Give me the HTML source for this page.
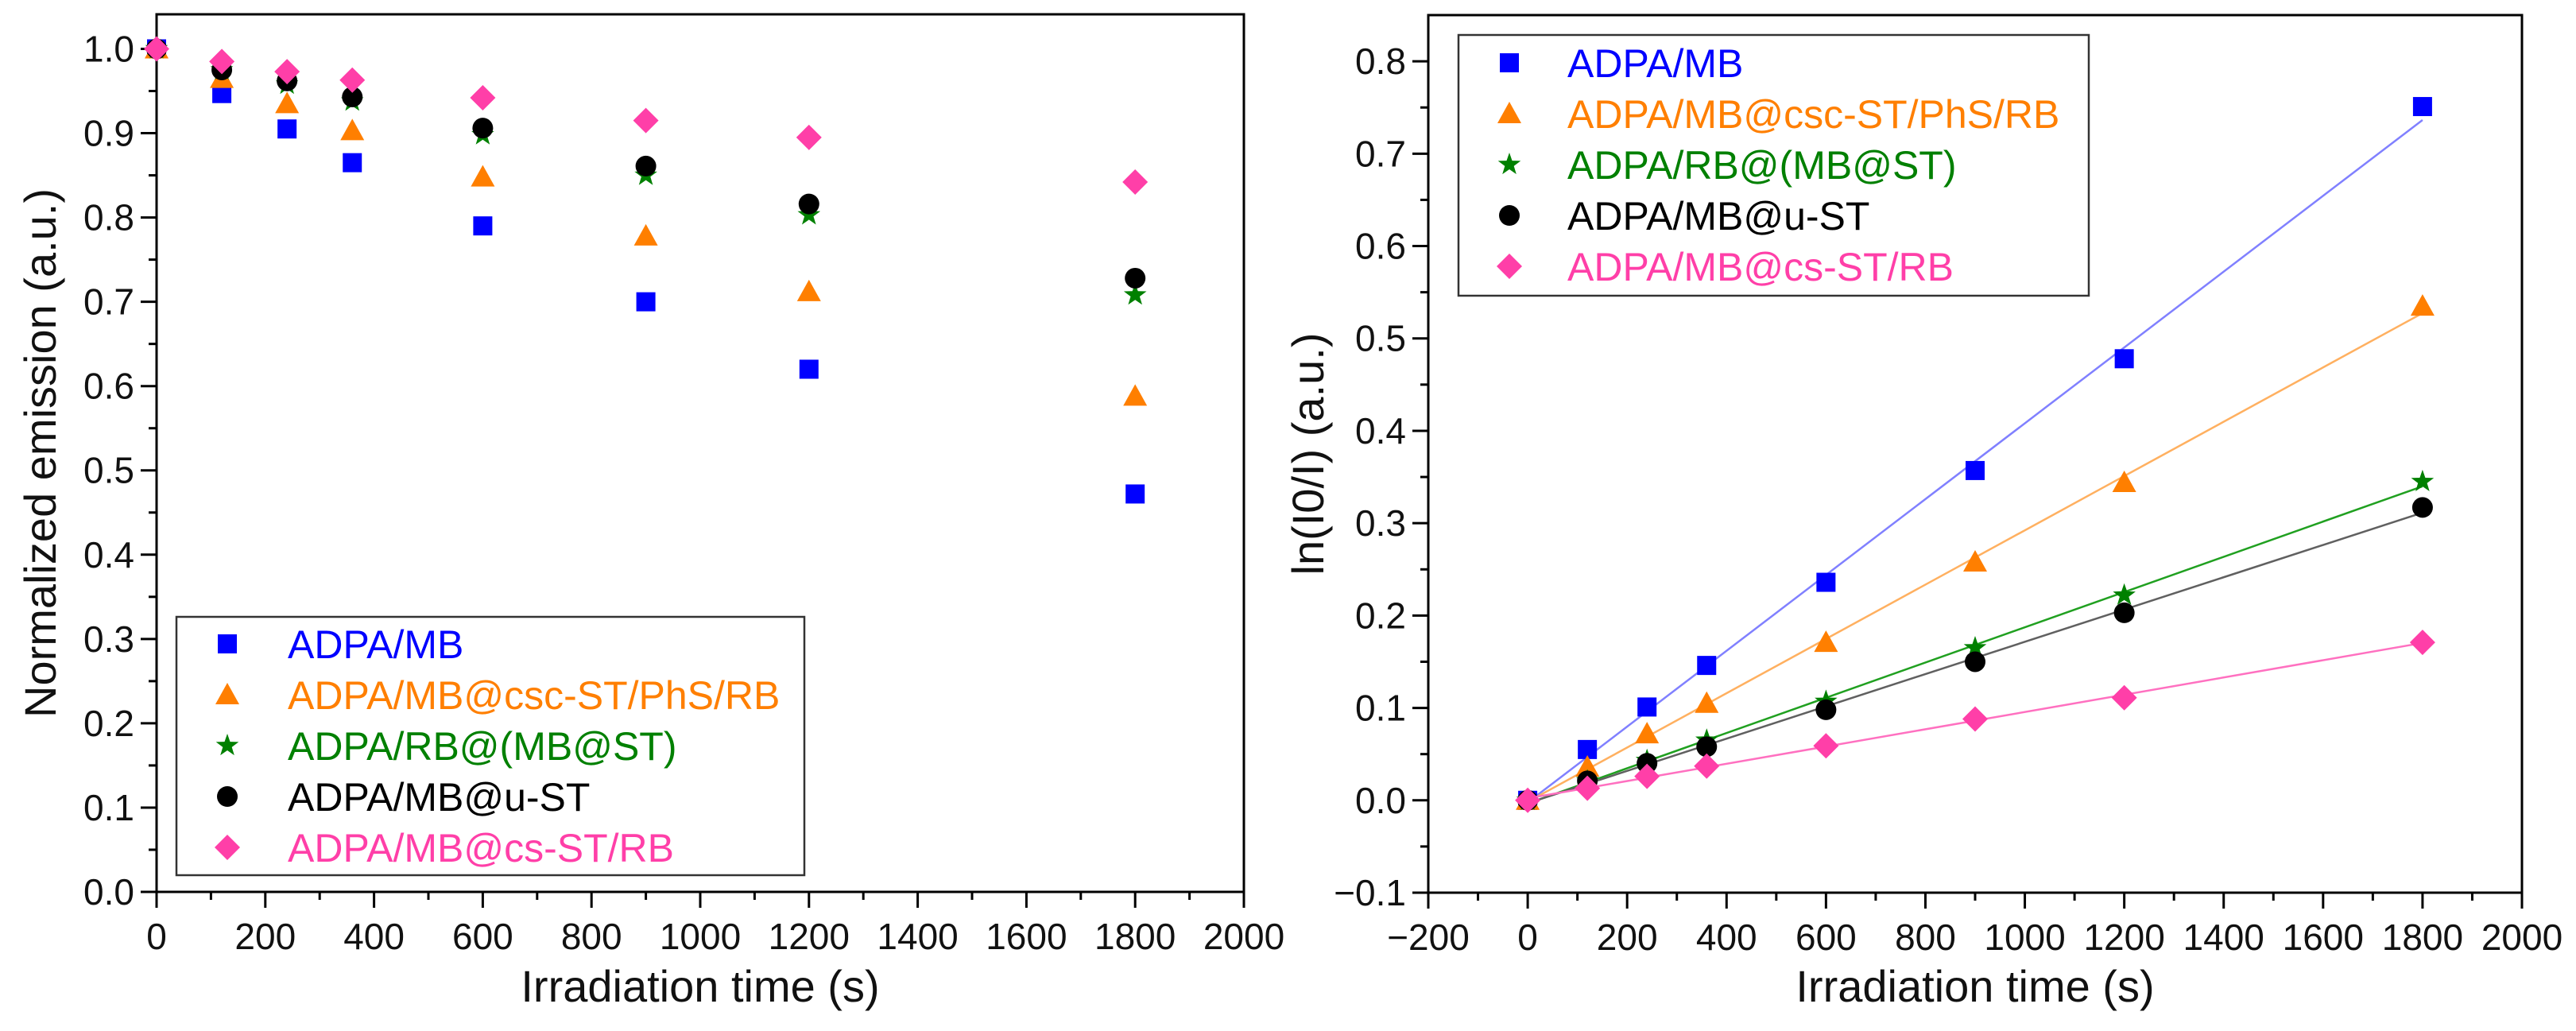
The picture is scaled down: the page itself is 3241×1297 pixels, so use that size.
<!DOCTYPE html>
<html><head><meta charset="utf-8">
<style>
html,body{margin:0;padding:0;background:#fff;}
svg{display:block;font-family:"Liberation Sans",Arial,sans-serif;}
</style></head>
<body>
<svg id="fig" width="3241" height="1297" viewBox="0 0 3241 1297" xmlns="http://www.w3.org/2000/svg"></svg>
<script>
const times = [0,120,240,360,600,900,1200,1800];
const seriesNames = ["ADPA/MB","ADPA/MB@csc-ST/PhS/RB","ADPA/RB@(MB@ST)","ADPA/MB@u-ST","ADPA/MB@cs-ST/RB"];
const emisMB  = [1.0,0.947,0.905,0.865,0.790,0.700,0.620,0.472];
const emisCSC = [1.0,0.965,0.935,0.903,0.848,0.778,0.712,0.588];
const emisRB  = [1.0,0.975,0.958,0.938,0.898,0.850,0.803,0.708];
const emisU   = [1.0,0.975,0.962,0.943,0.906,0.861,0.816,0.728];
const emisCS  = [1.0,0.985,0.973,0.963,0.942,0.915,0.895,0.842];
const lnMB  = [0,0.055,0.101,0.146,0.236,0.357,0.478,0.751];
const lnCSC = [0,0.036,0.072,0.105,0.171,0.258,0.344,0.535];
const lnRB  = [0,0.021,0.043,0.065,0.107,0.165,0.222,0.345];
const lnU   = [0,0.021,0.040,0.058,0.098,0.150,0.203,0.317];
const lnCS  = [0,0.013,0.026,0.037,0.059,0.088,0.111,0.171];
const leftXTicks = [0,200,400,600,800,1000,1200,1400,1600,1800,2000];
const leftYTicks = [0.0,0.1,0.2,0.3,0.4,0.5,0.6,0.7,0.8,0.9,1.0];
const rightXTicks = [-200,0,200,400,600,800,1000,1200,1400,1600,1800,2000];
const rightYTicks = [-0.1,0.0,0.1,0.2,0.3,0.4,0.5,0.6,0.7,0.8];

const colors = ["#0000ff","#ff7f00","#008000","#000000","#ff3fa8"];
const lineColors = ["#8080ff","#ffb060","#20a020","#606060","#ff70c0"];
const shapes = ["square","triangle","star","circle","diamond"];
const NS = "http://www.w3.org/2000/svg";
const svg = document.getElementById("fig");
function el(tag, attrs, parent){
  const e = document.createElementNS(NS, tag);
  for (const k in attrs) e.setAttribute(k, attrs[k]);
  (parent||svg).appendChild(e); return e;
}
function marker(shape, cx, cy, color, g){
  let m;
  if (shape==="square") m = el("rect",{x:cx-12,y:cy-12,width:24,height:24,fill:color},g);
  else if (shape==="circle") m = el("circle",{cx:cx,cy:cy,r:13,fill:color},g);
  else if (shape==="triangle") m = el("polygon",{points:`${cx},${cy-15} ${cx+15},${cy+12} ${cx-15},${cy+12}`,fill:color},g);
  else if (shape==="diamond") m = el("polygon",{points:`${cx},${cy-16} ${cx+16},${cy} ${cx},${cy+16} ${cx-16},${cy}`,fill:color},g);
  else {
    let p=[]; for(let i=0;i<10;i++){const r=i%2?6:15;const a=-Math.PI/2+i*Math.PI/5;p.push((cx+r*Math.cos(a)).toFixed(1)+","+(cy+r*Math.sin(a)).toFixed(1));}
    m = el("polygon",{points:p.join(" "),fill:color},g);
  }
  return m;
}
function axes(cfg){
  const g = el("g",{});
  
  
  const {x0,x1,y0,y1,xmin,xmax,ymin,ymax} = cfg;
  const sx = v => x0 + (v-xmin)/(xmax-xmin)*(x1-x0);
  const sy = v => y0 - (v-ymin)/(ymax-ymin)*(y0-y1);
  el("rect",{x:x0,y:y1,width:x1-x0,height:y0-y1,fill:"none",stroke:"#000","stroke-width":3},g);
  cfg.xTicks.forEach((t,i)=>{
    const x=sx(t);
    el("line",{x1:x,y1:y0,x2:x,y2:y0+20,stroke:"#000","stroke-width":3},g);
    if(i<cfg.xTicks.length-1){const xm=sx(t+(cfg.xTicks[1]-cfg.xTicks[0])/2);el("line",{x1:xm,y1:y0,x2:xm,y2:y0+10,stroke:"#000","stroke-width":3},g);}
    const tx=el("text",{x:x,y:y0+72,"font-size":46,"text-anchor":"middle",fill:"#111"},g);
    
    
    tx.textContent = t<0 ? "\u2212"+(-t) : String(t);
  });
  cfg.yTicks.forEach((t,i)=>{
    const y=sy(t);
    el("line",{x1:x0,y1:y,x2:x0-20,y2:y,stroke:"#000","stroke-width":3},g);
    if(i<cfg.yTicks.length-1){const ym=sy(t+0.05);el("line",{x1:x0,y1:ym,x2:x0-10,y2:ym,stroke:"#000","stroke-width":3},g);}
    const ty=el("text",{x:x0-28,y:y+16,"font-size":46,"text-anchor":"end",fill:"#111"},g);
    
    
    ty.textContent = t<0 ? "\u2212"+(-t).toFixed(1) : t.toFixed(1);
  });
  const xt=el("text",{x:(x0+x1)/2,y:cfg.xTitleY,"font-size":56,"text-anchor":"middle",fill:"#111"},g);
  
  
  xt.textContent="Irradiation time (s)";
  const yt=el("text",{x:0,y:0,"font-size":56,"text-anchor":"middle",fill:"#111",transform:`translate(${cfg.yTitleX},${(y0+y1)/2}) rotate(-90)`},g);
  
  
  yt.textContent=cfg.yTitle;
  return {g,sx,sy};
}
function legend(x,y,w,h,rowY0,rowStep,mx,tx){
  const g=el("g",{});
  
  
  el("rect",{x:x,y:y,width:w,height:h,fill:"#fff",stroke:"#333","stroke-width":2.5},g);
  seriesNames.forEach((n,i)=>{
    const cy=rowY0+i*rowStep;
    const e=el("g",{},g);
    
    
    marker(shapes[i],mx,cy,colors[i],e);
    const t=el("text",{x:tx,y:cy+18,"font-size":50,fill:colors[i]},e);
    t.textContent=n;
  });
}
// Left chart
const L = axes({name:"left-chart",x0:197,x1:1565,y0:1122,y1:18,xmin:0,xmax:2000,ymin:0,ymax:1.041,
  xTicks:leftXTicks,yTicks:leftYTicks,xTitleY:1260,yTitleX:70,yTitle:"Normalized emission (a.u.)"});
[emisMB,emisCSC,emisRB,emisU,emisCS].forEach((arr,i)=>{
  const g=el("g",{});
  
  
  arr.forEach((v,j)=>{ const m=marker(shapes[i],L.sx(times[j]),L.sy(v),colors[i],g);
    
     });
});
legend(222,776,790,325,810,64,286,362);

// Right chart
const R = axes({name:"right-chart",x0:1797,x1:3173,y0:1123,y1:19,xmin:-200,xmax:2000,ymin:-0.1,ymax:0.85,
  xTicks:rightXTicks,yTicks:rightYTicks,xTitleY:1260,yTitleX:1665,yTitle:"ln(I0/I) (a.u.)"});
[lnMB,lnCSC,lnRB,lnU,lnCS].forEach((arr,i)=>{
  // least squares fit
  const n=arr.length; let sx=0,sy=0,sxx=0,sxy=0;
  for(let j=0;j<n;j++){sx+=times[j];sy+=arr[j];sxx+=times[j]*times[j];sxy+=times[j]*arr[j];}
  const b=(n*sxy-sx*sy)/(n*sxx-sx*sx), a=(sy-b*sx)/n;
  const g=el("g",{});
  
  
  const ln=el("line",{x1:R.sx(0),y1:R.sy(a),x2:R.sx(1800),y2:R.sy(a+b*1800),stroke:lineColors[i],"stroke-width":2.5},g);
  
  
  arr.forEach((v,j)=>{ const m=marker(shapes[i],R.sx(times[j]),R.sy(v),colors[i],g);
    
     });
});
legend(1835,44,793,328,79,64,1899,1972);
</script>
</body></html>
